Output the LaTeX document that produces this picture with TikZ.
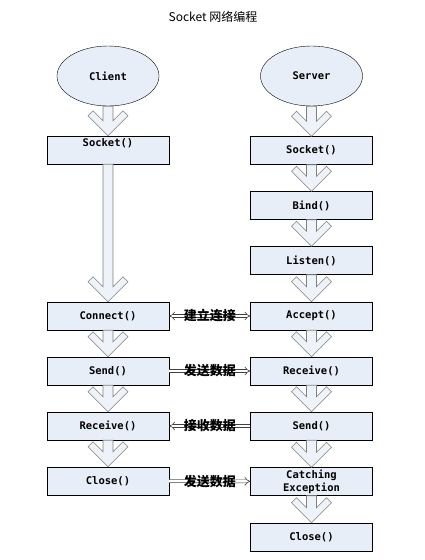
\documentclass[tikz,border=0pt]{standalone}
\usepackage{fontspec}
\newfontfamily\cjk{Noto Sans CJK SC}
\newfontfamily\mono{DejaVu Sans Mono}
\usetikzlibrary{shapes.geometric, arrows.meta, calc}
\definecolor{boxfill}{HTML}{E8EEF7}
\definecolor{arrowfill}{HTML}{EEF2F9}
\definecolor{arrowgray}{HTML}{7F7F7F}
\tikzstyle{actor} = [ellipse, minimum width=102pt, minimum height=60pt, draw=black, fill=boxfill, font=\mono\bfseries\fontsize{10.5}{12}\selectfont]
\tikzstyle{box} = [rectangle, minimum width=122pt, minimum height=28pt, inner sep=1pt, align=center, draw=black, fill=boxfill, font=\mono\bfseries\fontsize{10.5}{12}\selectfont]
\tikzstyle{link} = [draw=black!75, double=white, double distance=2.4pt, line width=0.6pt]
\tikzstyle{linklabel} = [font=\cjk\bfseries\fontsize{13}{15}\selectfont, inner sep=0pt]
% hollow block arrow from the bottom of #1 down to the top of #2
\newcommand{\flowarrow}[2]{%
  \path let \p1=(#1.south), \p2=(#2.north) in
    [fill=arrowfill, draw=arrowgray, line width=0.6pt, line join=miter]
    (\x1-5pt,\y1) -- (\x1-5pt,\y2+15pt) -- (\x1-15pt,\y2+25pt) -- (\x1-20pt,\y2+20pt)
    -- (\x1,\y2) -- (\x1+20pt,\y2+20pt) -- (\x1+15pt,\y2+25pt) -- (\x1+5pt,\y2+15pt)
    -- (\x1+5pt,\y1) -- cycle;}

\begin{document}
\begin{tikzpicture}[x=1pt, y=-1pt, node distance=55pt]
\useasboundingbox (0,0) rectangle (424,560);

\node (title) [font=\cjk\fontsize{12}{14}\selectfont] at (213,17) {Socket 网络编程};

% client side
\node (cli) [actor] at (108,76) {Client};
\node (cli_socket) [box, text depth=14pt] at (108,150) {Socket()};
\node (cli_connect) [box] at (108,316) {Connect()};
\node (cli_send) [box, below of=cli_connect] {Send()};
\node (cli_recv) [box, below of=cli_send] {Receive()};
\node (cli_close) [box, below of=cli_recv] {Close()};

% server side
\node (srv) [actor] at (311.5,76) {Server};
\node (srv_socket) [box] at (311.5,150.5) {Socket()};
\node (srv_bind) [box, below of=srv_socket] {Bind()};
\node (srv_listen) [box, below of=srv_bind] {Listen()};
\node (srv_accept) [box] at (311.5,316) {Accept()};
\node (srv_recv) [box, below of=srv_accept] {Receive()};
\node (srv_send) [box, below of=srv_recv] {Send()};
\node (srv_catch) [box] at (311.5,481.5) {Catching\\[1pt]Exception};
\node (srv_close) [box] at (311.5,537) {Close()};

\flowarrow{cli}{cli_socket}
\flowarrow{cli_socket}{cli_connect}
\flowarrow{cli_connect}{cli_send}
\flowarrow{cli_send}{cli_recv}
\flowarrow{cli_recv}{cli_close}

\flowarrow{srv}{srv_socket}
\flowarrow{srv_socket}{srv_bind}
\flowarrow{srv_bind}{srv_listen}
\flowarrow{srv_listen}{srv_accept}
\flowarrow{srv_accept}{srv_recv}
\flowarrow{srv_recv}{srv_send}
\flowarrow{srv_send}{srv_catch}
\flowarrow{srv_catch}{srv_close}

\draw [link, {Implies}-{Implies}] (cli_connect) -- node[linklabel] {建立连接} (srv_accept);
\draw [link, -{Implies}] (cli_send) -- node[linklabel] {发送数据} (srv_recv);
\draw [link, -{Implies}] (srv_send) -- node[linklabel] {接收数据} (cli_recv);
\draw [link, -{Implies}] (cli_close) -- node[linklabel] {发送数据} (srv_catch);

\end{tikzpicture}
\end{document}
